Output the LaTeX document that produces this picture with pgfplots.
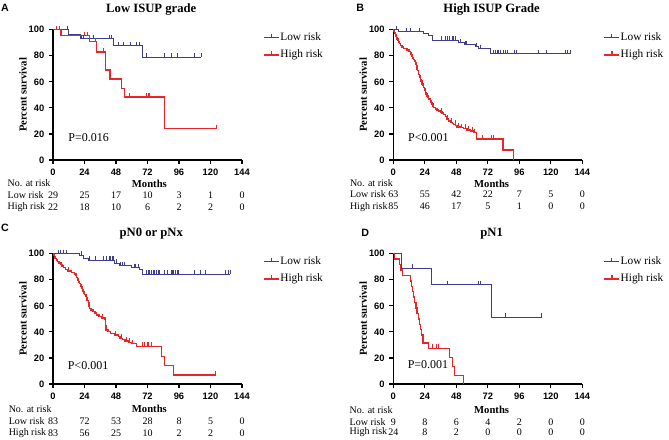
\documentclass[border=0pt]{standalone}
\usepackage{fontspec}
\setmainfont{Liberation Serif}
\setsansfont{Liberation Sans}
\usepackage{pgfplots}
\pgfplotsset{compat=1.18}
\definecolor{kmblue}{RGB}{62,60,140}
\definecolor{kmred}{RGB}{232,38,40}
\pgfplotsset{
  km/.style={
    scale only axis, width=141.75pt, height=97.75pt, anchor=south west,
    xmin=0, xmax=144, ymin=0, ymax=100,
    axis x line*=bottom, axis y line*=left,
    axis line style={line width=1.2pt, black},
    xtick={0,24,48,72,96,120,144}, ytick={0,20,40,60,80,100},
    tick align=outside, major tick length=3pt,
    tick style={line width=0.9pt, black},
    ticklabel style={font=\sffamily\bfseries\fontsize{7}{8}\selectfont},
    /pgf/number format/assume math mode=true,
    clip=false,
    ylabel={Percent survival}, xlabel={Months},
    label style={font=\bfseries\fontsize{8}{9}\selectfont},
    ylabel style={at={([xshift=-22.5pt]axis description cs:0,0.5)}, anchor=center},
    title style={at={([yshift=9pt]axis description cs:0.52,1)}, anchor=center, font=\bfseries\fontsize{9.5}{11}\selectfont},
    legend style={draw=none, fill=none, at={(1,1)}, anchor=north west, xshift=15.75pt, yshift=-1.5pt,
      font=\fontsize{8.5}{10}\selectfont, inner sep=0pt, row sep=4.5pt,
      nodes={inner sep=0.5pt, text height=6pt, text depth=1.5pt}},
    legend cell align=left,
    legend image code/.code={\draw[##1] (0pt,0pt) -- (11.25pt,0pt); \draw[##1] (5.6pt,0pt) -- (5.6pt,3pt);},
  },
  lowline/.style={const plot, color=kmblue, line width=0.8pt, mark=none},
  highline/.style={const plot, color=kmred, line width=1.1pt, mark=none},
  lowcens/.style={only marks, mark=|, color=kmblue, mark size=1.5pt, mark options={yshift=1.5pt, line width=0.6pt}, forget plot},
  highcens/.style={only marks, mark=|, color=kmred, mark size=1.5pt, mark options={yshift=1.5pt, line width=0.7pt}, forget plot},
}
\newcommand{\rk}{\fontsize{7.5}{9}\selectfont}
\begin{document}
\begin{tikzpicture}
\useasboundingbox (0,0) rectangle (501.75pt,330pt);
% ---------------- A ----------------
\begin{axis}[km, at={(39.75pt,210pt)}, title={Low ISUP grade},
  xlabel style={at={([yshift=-18pt]axis description cs:0.51,0)}, anchor=center}]
\addplot[lowline] coordinates {(0,100) (11.7,96.6) (21,93.1) (46.4,87.5) (68,78.7) (113,78.7)};
\addlegendentry{Low risk}
\addplot[highline] coordinates {(0,100) (6,95.5) (27.7,90.9) (33.3,83.0) (39.9,69.0) (43.4,62.0) (52.3,55.0) (54.3,48.3) (84.8,24.1) (124.2,24.1)};
\addlegendentry{High risk}
\addplot[lowcens] coordinates {(11,100) (22,93.1) (23.5,93.1) (31,93.1) (43,93.1) (44.5,93.1) (49.7,87.5) (54,87.5) (58.6,87.5) (63.2,87.5) (66.2,87.5) (71.3,78.7) (84.8,78.7) (90.4,78.7) (94.9,78.7) (108.1,78.7) (112.7,78.7)};
\addplot[highcens] coordinates {(2.3,100) (5.3,100) (24,95.5) (26.5,95.5) (32,90.9) (38.2,83.0) (58.6,48.3) (71.3,48.3) (72.5,48.3) (73.5,48.3) (124.2,24.1)};
\node[font=\fontsize{9}{10}\selectfont] at (axis cs:27.2,17) {P=0.016};
\node[font=\sffamily\bfseries\fontsize{8}{9}\selectfont] at ([xshift=-36pt,yshift=16.5pt]axis description cs:0,1) {A};
\node[font=\rk, anchor=west] at (axis cs:-38.1,-17.6) {No. at risk};
\node[font=\rk, anchor=west] at (axis cs:-38.1,-26.9) {Low risk};
\node[font=\rk, anchor=west] at (axis cs:-38.1,-36.1) {High risk};
\node[font=\rk] at (axis cs:0,-26.9) {29};
\node[font=\rk] at (axis cs:24,-26.9) {25};
\node[font=\rk] at (axis cs:48,-26.9) {17};
\node[font=\rk] at (axis cs:72,-26.9) {10};
\node[font=\rk] at (axis cs:96,-26.9) {3};
\node[font=\rk] at (axis cs:120,-26.9) {1};
\node[font=\rk] at (axis cs:144,-26.9) {0};
\node[font=\rk] at (axis cs:0,-36.1) {22};
\node[font=\rk] at (axis cs:24,-36.1) {18};
\node[font=\rk] at (axis cs:48,-36.1) {10};
\node[font=\rk] at (axis cs:72,-36.1) {6};
\node[font=\rk] at (axis cs:96,-36.1) {2};
\node[font=\rk] at (axis cs:120,-36.1) {2};
\node[font=\rk] at (axis cs:144,-36.1) {0};
\end{axis}
% ---------------- B ----------------
\begin{axis}[km, at={(295pt,210pt)}, title={High ISUP Grade},
  xlabel style={at={([yshift=-18pt]axis description cs:0.52,0)}, anchor=center}]
\addplot[lowline] coordinates {(0,100) (4,98.4) (23,96.8) (27,95.2) (29.5,91.8) (49.8,89.9) (54,88.3) (62.5,86.9) (65,85.4) (73.9,81.5) (135.4,81.5)};
\addlegendentry{Low risk}
\addplot[highline] coordinates {(0,100) (0.3,98.8) (0.8,97.6) (1.5,96.4) (2,95.2) (2.5,94) (2.8,92.8) (3.5,91.6) (4.1,90.4) (4.8,89.2) (5.3,88) (6.6,86.8) (7.9,85.6) (10.4,84.4) (12,83.2) (13,82) (13.5,80.8) (14.2,79.6) (14.8,78.4) (15.5,77.2) (16,76) (16.8,74.8) (17.2,73.6) (17.6,72.4) (18,70) (18.5,68.8) (19,67.6) (19.3,65.6) (19.8,64.4) (20.3,63.2) (20.6,61.8) (21.2,60.6) (21.8,58.2) (22.5,57) (23.1,55.6) (23.6,54.4) (24.1,53.2) (24.4,51.8) (25,50.6) (25.7,49.2) (26.3,48) (26.9,46.8) (28.2,45.3) (28.8,44.1) (29.5,42.8) (30.2,41.6) (30.7,40.4) (32,39.2) (33.3,38.4) (34.5,37.6) (35.8,36.8) (37,36) (38.3,34.8) (39.6,33.2) (40.9,31.6) (42.2,30) (43.4,28.8) (45,28) (46,27.3) (47.5,26.3) (48.5,25.4) (51,24.9) (53.6,24.2) (56.1,23.1) (58.7,22.3) (61.2,21.1) (63.5,16) (83.5,7.8) (91.7,0)};
\addlegendentry{High risk}
\addplot[lowcens] coordinates {(2,100) (10,98.4) (13,98.4) (20,98.4) (37,91.8) (39.6,91.8) (40.9,91.8) (43,91.8) (44.7,91.8) (46,91.8) (47.2,91.8) (51,89.9) (55,88.3) (56,88.3) (63.5,86.9) (66,85.4) (76.4,81.5) (77.7,81.5) (79,81.5) (80.3,81.5) (81.5,81.5) (84,81.5) (85.3,81.5) (86.6,81.5) (92.2,81.5) (93.7,81.5) (110.7,81.5) (117,81.5) (131,81.5) (132.3,81.5) (134.9,81.5)};
\addplot[highcens] coordinates {(36.5,36.8) (41.5,31.6) (44,28.8) (47,27.3) (50,25.4) (52,24.9) (55,24.2) (57.5,23.1) (60,22.3) (62,21.1) (68,16) (75,16) (76.5,16)};
\node[font=\fontsize{9}{10}\selectfont] at (axis cs:26.7,17) {P<0.001};
\node[font=\sffamily\bfseries\fontsize{8}{9}\selectfont] at ([xshift=-24.75pt,yshift=16.5pt]axis description cs:0,1) {B};
\node[font=\rk, anchor=west] at (axis cs:-36.6,-17.4) {No. at risk};
\node[font=\rk, anchor=west] at (axis cs:-36.6,-26.1) {Low risk};
\node[font=\rk, anchor=west] at (axis cs:-36.6,-35.8) {High risk};
\node[font=\rk] at (axis cs:0,-26.1) {63};
\node[font=\rk] at (axis cs:24,-26.1) {55};
\node[font=\rk] at (axis cs:48,-26.1) {42};
\node[font=\rk] at (axis cs:72,-26.1) {22};
\node[font=\rk] at (axis cs:96,-26.1) {7};
\node[font=\rk] at (axis cs:120,-26.1) {5};
\node[font=\rk] at (axis cs:144,-26.1) {0};
\node[font=\rk] at (axis cs:0,-35.8) {85};
\node[font=\rk] at (axis cs:24,-35.8) {46};
\node[font=\rk] at (axis cs:48,-35.8) {17};
\node[font=\rk] at (axis cs:72,-35.8) {5};
\node[font=\rk] at (axis cs:96,-35.8) {1};
\node[font=\rk] at (axis cs:120,-35.8) {0};
\node[font=\rk] at (axis cs:144,-35.8) {0};
\end{axis}
% ---------------- C ----------------
\begin{axis}[km, at={(39.75pt,42pt)}, title={pN0 or pNx},
  xlabel style={at={([yshift=-18.75pt]axis description cs:0.51,0)}, anchor=center}]
\addplot[lowline] coordinates {(0,100) (20,98.8) (23,96.4) (27,94.9) (47.2,92.6) (51,90.6) (60,89.2) (66,87.8) (68.5,84.3) (135,84.3)};
\addlegendentry{Low risk}
\addplot[highline] coordinates {(0,100) (0.5,98.8) (1,97.6) (1.5,96.4) (2.5,95.2) (3.5,94) (4.5,92.8) (6,91.6) (7,90.4) (8,89.2) (9.5,88) (11,86.7) (14,85.5) (16.5,84.3) (17.5,83.1) (18,81.9) (18.5,80.7) (19,79.5) (19.5,78.3) (20,77.1) (21,75.9) (21.5,74.7) (22,73.5) (22.5,72.3) (23,71.1) (23.5,69.9) (24,68.7) (25,67.5) (25.5,66.3) (26,64.2) (27,62) (27.5,59.9) (28,57.8) (29,56.7) (30.5,55.5) (32,54.3) (33,53) (35,51.8) (37,50.6) (39.5,49.4) (40,45) (40.5,41.5) (42,40.2) (44,38.9) (47,37.7) (50,36.4) (51,35.1) (53,34) (55,33) (58,32) (60,31) (63.5,28.8) (82.8,21.1) (84.8,14.2) (91.7,7) (124,7)};
\addlegendentry{High risk}
\addplot[lowcens] coordinates {(4,100) (5.3,100) (7.9,100) (10,100) (21.5,98.8) (27.7,94.9) (32,94.9) (38.4,94.9) (41,94.9) (43,94.9) (44,94.9) (45,94.9) (46,94.9) (48,92.6) (51.5,90.6) (53,90.6) (54.5,90.6) (62,89.2) (63,89.2) (65,89.2) (71.3,84.3) (72.5,84.3) (73.7,84.3) (75,84.3) (76.2,84.3) (77.5,84.3) (78.7,84.3) (80,84.3) (81.2,84.3) (85,84.3) (87.5,84.3) (90,84.3) (91,84.3) (92,84.3) (93.5,84.3) (94.5,84.3) (95.2,84.3) (108,84.3) (112,84.3) (115.8,84.3) (131,84.3) (133.5,84.3) (134.9,84.3)};
\addplot[highcens] coordinates {(12,86.7) (38,50.6) (47.5,37.7) (52,35.1) (56,33) (58.5,32) (60.5,31) (68,28.8) (70,28.8) (72,28.8) (73,28.8) (75,28.8) (124,7)};
\node[font=\fontsize{9}{10}\selectfont] at (axis cs:26.7,14.5) {P<0.001};
\node[font=\sffamily\bfseries\fontsize{8}{9}\selectfont] at ([xshift=-36pt,yshift=19.5pt]axis description cs:0,1) {C};
\node[font=\rk, anchor=west] at (axis cs:-37.3,-19.2) {No. at risk};
\node[font=\rk, anchor=west] at (axis cs:-37.3,-28.4) {Low risk};
\node[font=\rk, anchor=west] at (axis cs:-37.3,-37.6) {High risk};
\node[font=\rk] at (axis cs:0,-28.4) {83};
\node[font=\rk] at (axis cs:24,-28.4) {72};
\node[font=\rk] at (axis cs:48,-28.4) {53};
\node[font=\rk] at (axis cs:72,-28.4) {28};
\node[font=\rk] at (axis cs:96,-28.4) {8};
\node[font=\rk] at (axis cs:120,-28.4) {5};
\node[font=\rk] at (axis cs:144,-28.4) {0};
\node[font=\rk] at (axis cs:0,-37.6) {83};
\node[font=\rk] at (axis cs:24,-37.6) {56};
\node[font=\rk] at (axis cs:48,-37.6) {25};
\node[font=\rk] at (axis cs:72,-37.6) {10};
\node[font=\rk] at (axis cs:96,-37.6) {2};
\node[font=\rk] at (axis cs:120,-37.6) {2};
\node[font=\rk] at (axis cs:144,-37.6) {0};
\end{axis}
% ---------------- D ----------------
\begin{axis}[km, at={(295pt,42pt)}, title={pN1},
  xlabel style={at={([yshift=-19.5pt]axis description cs:0.52,0)}, anchor=center}]
\addplot[lowline] coordinates {(0,100) (5.9,88.9) (29.4,76.2) (74.8,51.3) (113.1,51.3)};
\addlegendentry{Low risk}
\addplot[highline] coordinates {(0,100) (1,95.8) (4.5,91.7) (5.5,87.5) (7,83.3) (13.2,79.2) (14,75) (14.8,70.8) (15.5,66.7) (16.3,62.5) (17.2,58.3) (18.2,54.2) (19,50) (19.8,45.8) (20.5,41.7) (21.3,37.5) (22.5,31.5) (26.8,27.4) (42.9,20.5) (44.9,13.6) (46.7,6.4) (53.6,0)};
\addlegendentry{High risk}
\addplot[lowcens] coordinates {(14.3,88.9) (40.9,76.2) (64.8,76.2) (66,76.2) (85.2,51.3) (113.1,51.3)};
\addplot[highcens] coordinates {(30.1,27.4) (32.7,27.4) (34.7,27.4)};
\node[font=\fontsize{9}{10}\selectfont] at (axis cs:26.4,15) {P=0.001};
\node[font=\sffamily\bfseries\fontsize{8}{9}\selectfont] at ([xshift=-21pt,yshift=15.75pt]axis description cs:0,1) {D};
\node[font=\rk, anchor=west] at (axis cs:-36.8,-19.9) {No. at risk};
\node[font=\rk, anchor=west] at (axis cs:-36.8,-29.2) {Low risk};
\node[font=\rk, anchor=west] at (axis cs:-36.8,-36.8) {High risk};
\node[font=\rk] at (axis cs:0,-29.2) {9};
\node[font=\rk] at (axis cs:24,-29.2) {8};
\node[font=\rk] at (axis cs:48,-29.2) {6};
\node[font=\rk] at (axis cs:72,-29.2) {4};
\node[font=\rk] at (axis cs:96,-29.2) {2};
\node[font=\rk] at (axis cs:120,-29.2) {0};
\node[font=\rk] at (axis cs:144,-29.2) {0};
\node[font=\rk] at (axis cs:0,-36.8) {24};
\node[font=\rk] at (axis cs:24,-36.8) {8};
\node[font=\rk] at (axis cs:48,-36.8) {2};
\node[font=\rk] at (axis cs:72,-36.8) {0};
\node[font=\rk] at (axis cs:96,-36.8) {0};
\node[font=\rk] at (axis cs:120,-36.8) {0};
\node[font=\rk] at (axis cs:144,-36.8) {0};
\end{axis}
\end{tikzpicture}
\end{document}
